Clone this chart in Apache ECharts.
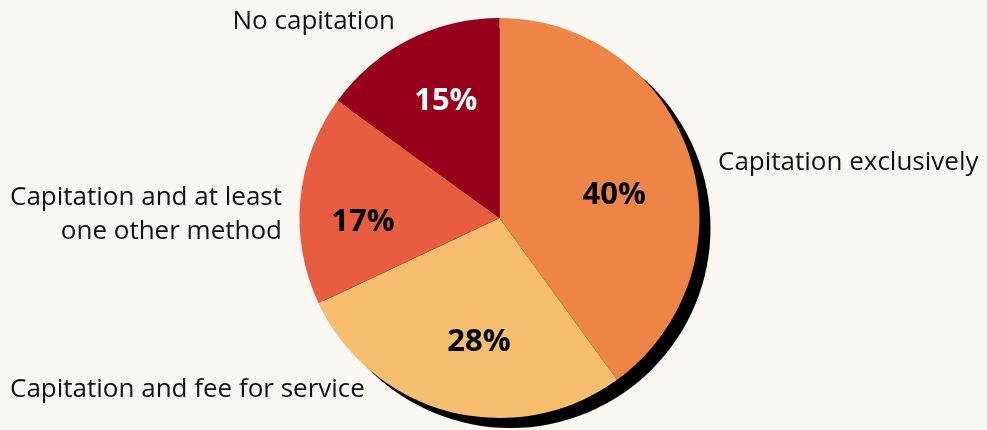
<!DOCTYPE html>
<html>
<head>
<meta charset="utf-8">
<script src="https://cdn.jsdelivr.net/npm/echarts@6/dist/echarts.min.js"></script>
<style>
  html, body { margin: 0; padding: 0; background: #fbf8f3; }
  #chart { width: 987px; height: 430px; }
</style>
</head>
<body>
<div id="chart"></div>
<script>
// data, clockwise from 12 o'clock
const categories = [
  "Capitation exclusively",
  "Capitation and fee for service",
  "Capitation and at least\none other method",
  "No capitation"
];
const shares = [40, 28, 17, 15];
const sliceColors = ["#ee8547", "#f6be6e", "#e85c40", "#97001b"];
const pctColors = ["#000", "#000", "#000", "#fff"];

// where the names sit round the pie
const namePlaces = [
  { x: 718, y: 163, align: "left" },
  { x: 10, y: 390, align: "left" },
  { x: 282, y: 215, align: "right" },
  { x: 395, y: 22, align: "right" }
];
// nudges for the percent labels
const pctNudge = [[-6, 16], [11, 1], [-10, 16], [4, -4]];

const pieCenter = [499.5, 218];
const pieRadius = 200;
const font = "'Open Sans', 'Noto Sans', sans-serif";

const chart = echarts.init(document.getElementById("chart"));

chart.setOption({
  backgroundColor: "#fbf8f3",
  animation: false,
  series: [
    // black drop shadow behind the pie
    {
      type: "pie",
      silent: true,
      center: [pieCenter[0] + 11, pieCenter[1] + 10],
      radius: pieRadius,
      label: { show: false },
      labelLine: { show: false },
      itemStyle: { color: "#000", borderWidth: 0 },
      data: [{ value: 1, name: "shadow" }]
    },
    // the pie with the category names
    {
      type: "pie",
      center: pieCenter,
      radius: pieRadius,
      startAngle: 90,
      clockwise: true,
      itemStyle: { borderWidth: 0 },
      label: {
        show: true,
        position: "outside",
        overflow: "none",
        color: "#111",
        fontFamily: font,
        fontSize: 26,
        lineHeight: 34,
        formatter: p => p.name
      },
      labelLine: { show: false },
      labelLayout: p => ({
        x: namePlaces[p.dataIndex].x,
        y: namePlaces[p.dataIndex].y,
        align: namePlaces[p.dataIndex].align,
        verticalAlign: "middle"
      }),
      data: categories.map((c, i) => ({
        name: c,
        value: shares[i],
        itemStyle: { color: sliceColors[i] }
      }))
    },
    // percent labels, on a see-through ring so they sit part way out
    {
      type: "pie",
      silent: true,
      center: pieCenter,
      radius: [48, pieRadius],
      startAngle: 90,
      clockwise: true,
      itemStyle: { color: "rgba(0,0,0,0)", borderWidth: 0 },
      label: {
        show: true,
        position: "inside",
        fontFamily: font,
        fontWeight: "bold",
        fontSize: 31,
        formatter: p => p.value + "%"
      },
      labelLine: { show: false },
      labelLayout: p => ({
        dx: pctNudge[p.dataIndex][0],
        dy: pctNudge[p.dataIndex][1]
      }),
      data: categories.map((c, i) => ({
        name: c,
        value: shares[i],
        label: { color: pctColors[i] }
      }))
    }
  ]
});
</script>
</body>
</html>
